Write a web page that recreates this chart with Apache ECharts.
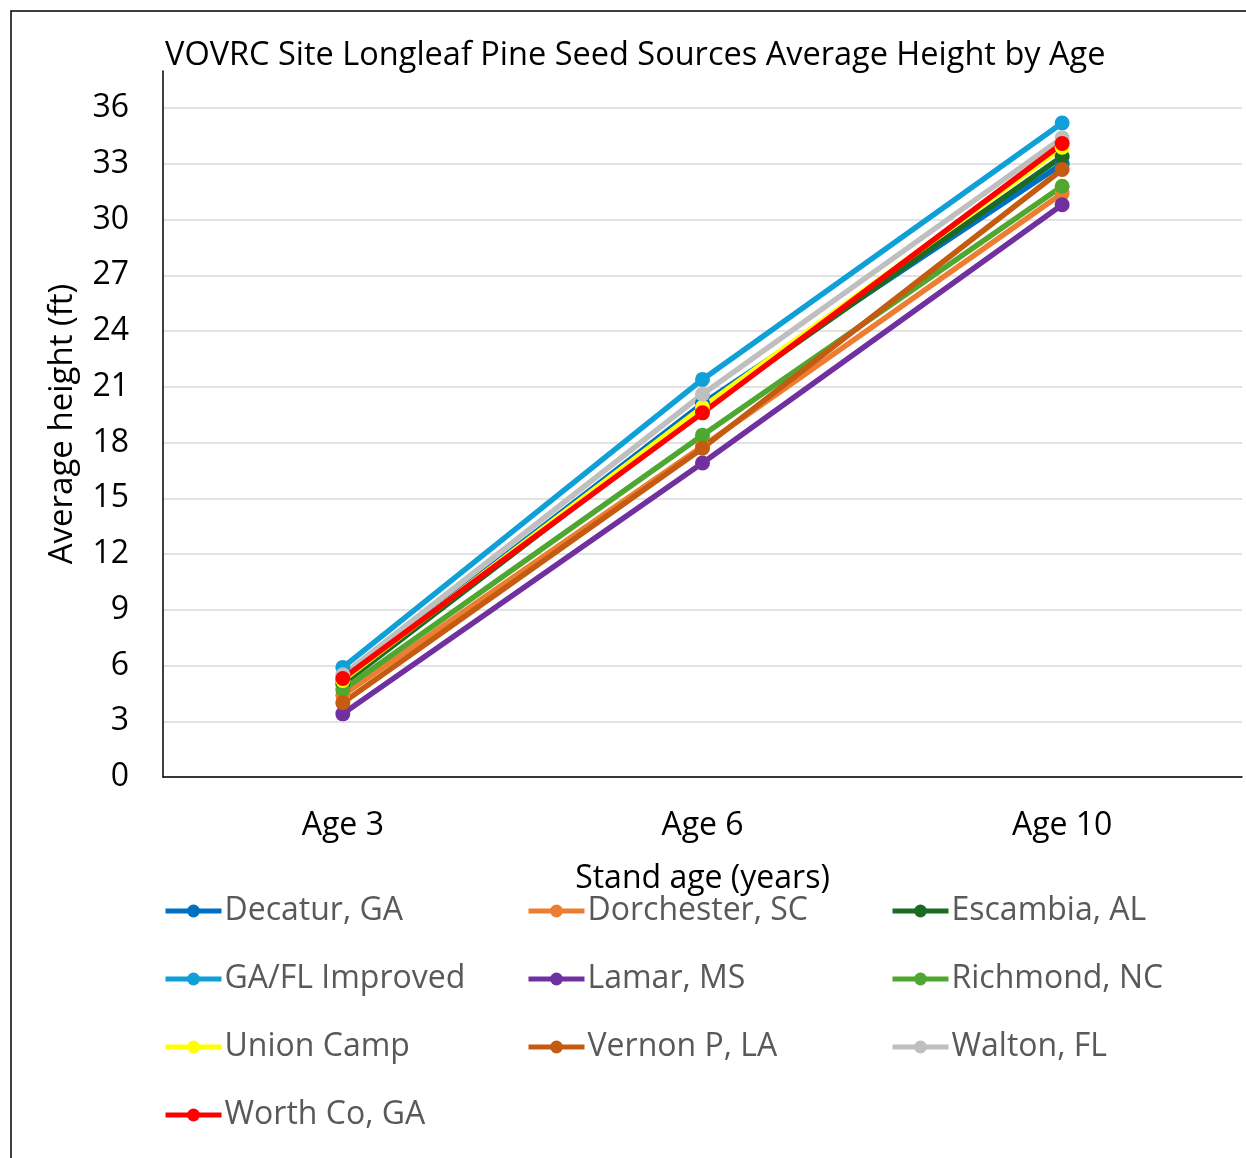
<!DOCTYPE html>
<html>
<head>
<meta charset="utf-8">
<script src="https://cdn.jsdelivr.net/npm/echarts@6/dist/echarts.min.js"></script>
<style>
  html, body { margin: 0; padding: 0; background: #fff; }
  #chart { width: 1246px; height: 1158px; }
</style>
</head>
<body>
<div id="chart"></div>
<script>
  const categories = ['Age 3', 'Age 6', 'Age 10'];

  const decatur = [5.2, 20.1, 33.0];
  const dorchester = [4.4, 17.8, 31.4];
  const escambia = [5.0, 19.8, 33.4];
  const gaflImproved = [5.9, 21.4, 35.2];
  const lamar = [3.4, 16.9, 30.8];
  const richmond = [4.7, 18.4, 31.8];
  const unionCamp = [5.2, 19.9, 33.9];
  const vernon = [4.0, 17.7, 32.7];
  const walton = [5.5, 20.6, 34.4];
  const worthCo = [5.3, 19.6, 34.1];

  const seriesNames = [
    'Decatur, GA', 'Dorchester, SC', 'Escambia, AL',
    'GA/FL Improved', 'Lamar, MS', 'Richmond, NC',
    'Union Camp', 'Vernon P, LA', 'Walton, FL',
    'Worth Co, GA',
  ];
  const seriesValues = [
    decatur, dorchester, escambia,
    gaflImproved, lamar, richmond,
    unionCamp, vernon, walton,
    worthCo,
  ];
  const colors = [
    '#0070C0', '#ED7D31', '#1B6B23',
    '#0FA0D8', '#7030A0', '#4EA72E',
    '#FFFF00', '#C55A11', '#BFBFBF',
    '#FF0000',
  ];

  const font = "'Open Sans', sans-serif";

  const chart = echarts.init(document.getElementById('chart'));

  const legendBase = {
    orient: 'vertical',
    top: 895,
    padding: 0,
    itemWidth: 56,
    itemHeight: 16,
    itemGap: 36,
    lineStyle: { width: 5 },
    textStyle: { fontFamily: font, fontSize: 32, color: '#595959', padding: [0, 0, 0, -2] },
  };

  chart.setOption({
    animation: false,
    color: colors,
    title: {
      text: 'VOVRC Site Longleaf Pine Seed Sources Average Height by Age',
      left: 160,
      top: 34,
      textStyle: { fontFamily: font, fontSize: 32.5, fontWeight: 'normal', color: '#000' },
    },
    graphic: [
      {
        type: 'rect',
        shape: { x: 11, y: 11, width: 1260, height: 1200 },
        style: { fill: 'none', stroke: '#000', lineWidth: 1.5 },
        silent: true,
      },
    ],
    legend: [
      Object.assign({ left: 163, data: [seriesNames[0], seriesNames[3], seriesNames[6], seriesNames[9]] }, legendBase),
      Object.assign({ left: 526, data: [seriesNames[1], seriesNames[4], seriesNames[7]] }, legendBase),
      Object.assign({ left: 890, data: [seriesNames[2], seriesNames[5], seriesNames[8]] }, legendBase),
    ],
    grid: {
      left: 163,
      right: 4,
      top: 71,
      bottom: 381,
      containLabel: false,
    },
    xAxis: {
      type: 'category',
      data: categories,
      boundaryGap: true,
      name: 'Stand age (years)',
      nameLocation: 'middle',
      nameGap: 86,
      nameTextStyle: { fontFamily: font, fontSize: 32, color: '#000' },
      axisLine: { lineStyle: { color: '#000', width: 1.5 } },
      axisTick: { show: false },
      axisLabel: { fontFamily: font, fontSize: 32, color: '#000', margin: 33 },
    },
    yAxis: {
      type: 'value',
      min: 0,
      max: 38,
      interval: 3,
      name: 'Average height (ft)',
      nameLocation: 'middle',
      nameGap: 84,
      nameTextStyle: { fontFamily: font, fontSize: 33, color: '#000' },
      axisLine: { show: true, lineStyle: { color: '#000', width: 1.5 } },
      axisTick: { show: false },
      axisLabel: { fontFamily: font, fontSize: 32, color: '#000', margin: 34, showMaxLabel: false },
      splitLine: { show: true, showMaxLine: false, lineStyle: { color: '#D9D9D9', width: 1.5 } },
    },
    series: seriesNames.map((name, i) => ({
      name,
      type: 'line',
      data: seriesValues[i],
      symbol: 'circle',
      symbolSize: 15,
      lineStyle: { width: 5.5 },
    })),
  });
</script>
</body>
</html>
